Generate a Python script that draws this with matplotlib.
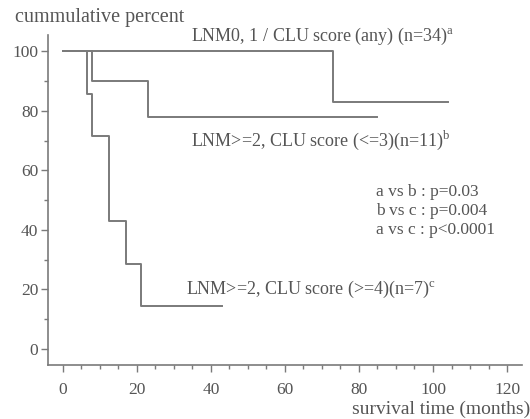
import matplotlib
matplotlib.use("Agg")
import matplotlib.pyplot as plt
from matplotlib.ticker import MultipleLocator

# Kaplan-Meier style curves (months, cumulative percent)
a_time = [0, 73, 104]
a_surv = [100, 83, 83]
b_time = [0, 8, 23, 85]
b_surv = [100, 90, 78, 78]
c_time = [0, 6.5, 8, 12.5, 17, 21, 43]
c_surv = [100, 85.7, 71.4, 42.9, 28.6, 14.3, 14.3]

label_a = "LNM0, 1 / CLU score (any) (n=34)"
label_b = "LNM>=2, CLU score (<=3)(n=11)"
label_c = "LNM>=2, CLU score (>=4)(n=7)"
pvals = ["a vs b : p=0.03", "b vs c : p=0.004", "a vs c : p<0.0001"]

xticks = [0, 20, 40, 60, 80, 100, 120]
yticks = [0, 20, 40, 60, 80, 100]

plt.rcParams["font.family"] = ["Liberation Serif", "DejaVu Serif"]
plt.rcParams["mathtext.fontset"] = "custom"
plt.rcParams["mathtext.rm"] = "Liberation Serif"

line_col = "#7a7a7a"
text_col = "#555555"

fig = plt.figure(figsize=(5.3, 4.19), dpi=100)
ax = fig.add_axes([0.0906, 0.129, 0.894, 0.787])

for t, s in [(a_time, a_surv), (b_time, b_surv), (c_time, c_surv)]:
    ax.step(t, s, where="post", color=line_col, linewidth=1.4)

ax.set_xlim(-4, 124)
ax.set_ylim(-5.4, 105.4)
ax.set_xticks(xticks)
ax.set_yticks(yticks)
ax.xaxis.set_minor_locator(MultipleLocator(5))
ax.yaxis.set_minor_locator(MultipleLocator(10))
ax.spines["top"].set_visible(False)
ax.spines["right"].set_visible(False)
for sp in ["left", "bottom"]:
    ax.spines[sp].set_color(line_col)
    ax.spines[sp].set_linewidth(1.2)
ax.tick_params(which="major", length=5, width=1, color=line_col,
               labelsize=12.5, labelcolor=text_col)
ax.tick_params(which="minor", length=3, width=1, color=line_col)
ax.tick_params(axis="x", pad=7)
ax.tick_params(axis="y", pad=2)

fs = 13
ax.text(34.5, 105, label_a + r"$^\mathrm{a}$", fontsize=fs, color=text_col, va="center")
ax.text(34.5, 70, label_b + r"$^\mathrm{b}$", fontsize=fs, color=text_col, va="center")
ax.text(33.2, 20, label_c + r"$^\mathrm{c}$", fontsize=fs, color=text_col, va="center")
for i, p in enumerate(pvals):
    ax.text(84.5, 52.7 - 6.4 * i, p, fontsize=12.5, color=text_col, va="center")

fig.text(0.028, 0.958, "cummulative percent", fontsize=14.5, color=text_col, va="center")
fig.text(1.0, 0.022, "survival time (months)", fontsize=14, color=text_col,
         va="center", ha="right")

fig.savefig("out.png", dpi=100, facecolor="white")
